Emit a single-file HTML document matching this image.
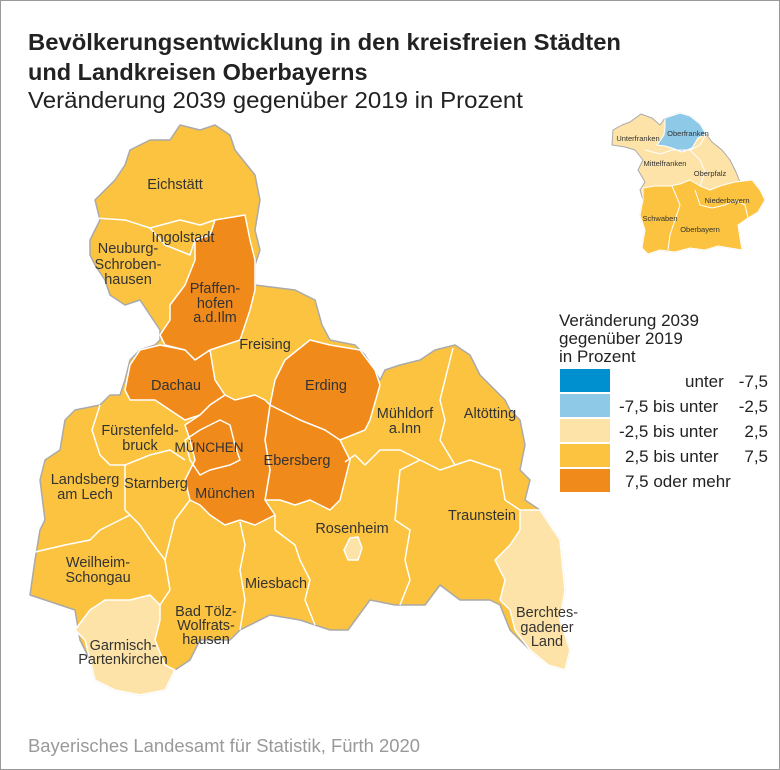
<!DOCTYPE html>
<html><head><meta charset="utf-8"><style>
body{margin:0;background:#fff}
#w{position:relative;width:778px;height:768px;border:1px solid #999;overflow:hidden;font-family:"Liberation Sans",sans-serif}
</style></head><body><div id="w">
<svg width="778" height="768" viewBox="1 1 778 768" xmlns="http://www.w3.org/2000/svg" font-family="Liberation Sans, sans-serif">
<text x="28" y="50" font-size="23.5" font-weight="bold" fill="#222" textLength="593" lengthAdjust="spacingAndGlyphs">Bevölkerungsentwicklung in den kreisfreien Städten</text>
<text x="28" y="80" font-size="23.5" font-weight="bold" fill="#222">und Landkreisen Oberbayerns</text>
<text x="28" y="108" font-size="23" fill="#222" textLength="495" lengthAdjust="spacingAndGlyphs">Veränderung 2039 gegenüber 2019 in Prozent</text>
<text x="28" y="752" font-size="18" fill="#999" textLength="392" lengthAdjust="spacingAndGlyphs">Bayerisches Landesamt für Statistik, Fürth 2020</text>

<g stroke-linejoin="round">
<polygon fill="#fbc33f" stroke="#aaa" stroke-width="1.5" points="180,125 200,130 215,125 230,135 235,150 255,175 260,200 255,230 260,250 255,265 255,285 295,290 315,300 322,325 330,340 355,345 365,355 380,380 385,370 400,365 420,360 435,350 455,345 470,355 480,375 490,385 505,400 510,410 520,420 525,445 520,470 530,480 525,500 540,510 560,540 565,590 560,620 570,650 565,670 548,665 530,650 510,630 500,605 490,600 460,600 440,585 425,605 395,605 370,600 348,630 330,630 300,620 270,615 240,630 230,640 200,640 190,660 175,670 165,690 140,695 115,690 95,680 90,660 80,640 75,610 60,605 45,600 30,595 35,560 40,530 45,520 40,480 45,460 60,450 65,420 75,410 100,405 110,395 120,395 125,380 130,360 140,350 155,345 160,340 160,330 140,300 125,305 110,295 105,280 95,265 90,255 90,240 100,220 95,200 105,190 115,180 125,165 130,150 150,140 170,140"/>
<g fill="#f08a1a" stroke="#fff" stroke-width="1.5">
<polygon points="215,220 245,215 250,240 255,260 255,290 250,310 240,340 225,345 210,350 195,360 185,350 165,345 160,335 170,320 170,305 185,285 195,260 195,240 210,235"/>
<polygon points="160,345 185,350 195,360 210,350 215,380 225,395 210,405 200,415 185,420 170,410 155,400 130,400 125,390 130,365 140,350"/>
<polygon points="310,340 330,345 360,350 375,370 380,385 370,420 365,430 340,440 320,430 300,420 270,405 275,380 285,360"/>
<polygon points="270,405 300,420 325,430 340,440 350,460 345,480 340,500 330,510 310,500 295,505 280,500 265,500 270,470 265,440"/>
<polygon points="200,415 210,405 225,395 235,400 255,395 265,400 270,405 265,440 270,470 265,500 275,515 255,525 240,520 225,525 210,515 200,505 190,500 185,480 195,460 190,440 185,425"/>
</g>
<polygon fill="none" stroke="#fff" stroke-width="1.5" points="185,440 200,430 220,420 230,425 235,445 240,460 230,465 210,470 200,475 190,460"/>
<g fill="#fde3a7" stroke="#fff" stroke-width="1.5">
<polygon points="90,610 105,600 130,600 150,595 160,605 160,620 155,640 165,665 175,670 165,690 140,695 115,690 95,680 90,660 85,640 75,630"/>
<polygon points="520,510 540,510 560,540 565,590 560,620 570,650 565,670 548,665 530,650 515,630 510,610 500,600 505,580 495,560 510,545 520,530"/>
<polygon points="350,538 358,537 362,548 358,560 348,560 344,550"/>
</g>
<g fill="none" stroke="#fff" stroke-width="1.5">
<polyline points="95,218 125,220 150,228 180,220 200,225 215,220"/>
<polyline points="150,228 165,245 190,255 195,240"/>
<polyline points="100,405 92,430 100,455 110,465 125,465 150,455 170,450 185,460"/>
<polyline points="125,465 125,510 130,515"/>
<polyline points="35,552 65,545 90,540 100,530 120,520 130,515 140,525 150,540 165,560"/>
<polyline points="190,500 175,520 170,540 165,560 170,590 160,605"/>
<polyline points="240,522 245,545 240,570 245,600 240,630"/>
<polyline points="275,515 275,530 295,545 300,560 310,580 305,600 315,625"/>
<polyline points="345,462 355,455 365,465 380,450 400,450 420,460"/>
<polyline points="420,460 400,470 395,520 410,530 405,560 410,580 400,605"/>
<polyline points="453,348 445,380 440,400 445,420 440,440 455,465"/>
<polyline points="420,460 440,470 455,465 470,460 500,470 505,500 520,510"/>
</g>
</g>

<g font-size="14.5" fill="#333" text-anchor="middle">
<text x="175" y="189">Eichstätt</text>
<text x="183" y="242">Ingolstadt</text>
<text x="128" y="253">Neuburg-</text><text x="128" y="269">Schroben-</text><text x="128" y="284">hausen</text>
<text x="215" y="293">Pfaffen-</text><text x="215" y="308">hofen</text><text x="215" y="322">a.d.Ilm</text>
<text x="265" y="349">Freising</text>
<text x="176" y="390">Dachau</text>
<text x="326" y="390">Erding</text>
<text x="405" y="418">Mühldorf</text><text x="405" y="433">a.Inn</text>
<text x="490" y="418">Altötting</text>
<text x="140" y="435">Fürstenfeld-</text><text x="140" y="450">bruck</text>
<text x="209" y="452" font-size="13.5">MÜNCHEN</text>
<text x="297" y="465">Ebersberg</text>
<text x="85" y="484">Landsberg</text><text x="85" y="499">am Lech</text>
<text x="156" y="488">Starnberg</text>
<text x="225" y="498">München</text>
<text x="482" y="520">Traunstein</text>
<text x="352" y="533">Rosenheim</text>
<text x="98" y="567">Weilheim-</text><text x="98" y="582">Schongau</text>
<text x="276" y="588">Miesbach</text>
<text x="206" y="616">Bad Tölz-</text><text x="206" y="630">Wolfrats-</text><text x="206" y="644">hausen</text>
<text x="547" y="617">Berchtes-</text><text x="547" y="632">gadener</text><text x="547" y="646">Land</text>
<text x="123" y="650">Garmisch-</text><text x="123" y="664">Partenkirchen</text>
</g>

<!-- inset -->
<g stroke-linejoin="round">
<polygon fill="#fde3a7" stroke="#aaa" points="641,114 652,118 660,125 665,118 680,113 690,116 700,124 706,134 712,142 722,150 730,160 736,172 740,182 752,180 760,190 765,200 758,212 748,218 738,225 740,238 742,250 730,248 718,246 705,250 690,248 675,252 660,250 648,254 642,248 645,230 640,215 643,200 640,190 645,182 638,170 643,160 635,150 625,147 612,145 613,130 622,125 630,122"/>
<polygon fill="#8ecae8" stroke="#fff" points="665,118 680,113 690,116 700,124 706,134 698,138 692,148 682,152 672,148 665,146 657,145 664,135 665,127"/>
<polygon fill="#fbc33f" stroke="#fff" points="643,188 655,186 670,186 680,184 690,180 700,186 710,190 720,186 735,182 752,180 760,190 765,200 758,212 748,218 738,225 740,238 742,250 730,248 718,246 705,250 690,248 675,252 660,250 648,254 642,248 645,230 640,215 643,200"/>
<g fill="none" stroke="#fff"><polyline points="645,150 660,154 672,150 690,150 700,160 705,172 700,186"/><polyline points="672,186 680,205 675,220 670,235 668,250"/><polyline points="695,190 700,205 712,208 725,205 735,200 745,205 748,218"/><polyline points="706,134 700,145 690,150"/></g>
<g font-size="7.5" fill="#333" text-anchor="middle">
<text x="638" y="141">Unterfranken</text><text x="688" y="136">Oberfranken</text>
<text x="665" y="166">Mittelfranken</text><text x="710" y="176">Oberpfalz</text>
<text x="727" y="203">Niederbayern</text><text x="660" y="221">Schwaben</text><text x="700" y="232">Oberbayern</text>
</g>
</g>

<!-- legend -->
<g font-size="17" fill="#222">
<text x="559" y="326">Veränderung 2039</text>
<text x="559" y="344">gegenüber 2019</text>
<text x="559" y="362">in Prozent</text>
<rect x="560" y="369" width="50" height="23" fill="#0090cf"/>
<rect x="560" y="394" width="50" height="23" fill="#8ecae8"/>
<rect x="560" y="419" width="50" height="23" fill="#fde3a7"/>
<rect x="560" y="444" width="50" height="23" fill="#fbc33f"/>
<rect x="560" y="469" width="50" height="23" fill="#f08a1a"/>
<text x="685" y="387">unter</text>
<text x="619" y="412">-7,5 bis unter</text>
<text x="619" y="437">-2,5 bis unter</text>
<text x="625" y="462">2,5 bis unter</text>
<text x="625" y="487">7,5 oder mehr</text>
<g text-anchor="end">
<text x="768" y="387">-7,5</text>
<text x="768" y="412">-2,5</text>
<text x="768" y="437">2,5</text>
<text x="768" y="462">7,5</text>
</g>
</g>
</svg></div></body></html>
